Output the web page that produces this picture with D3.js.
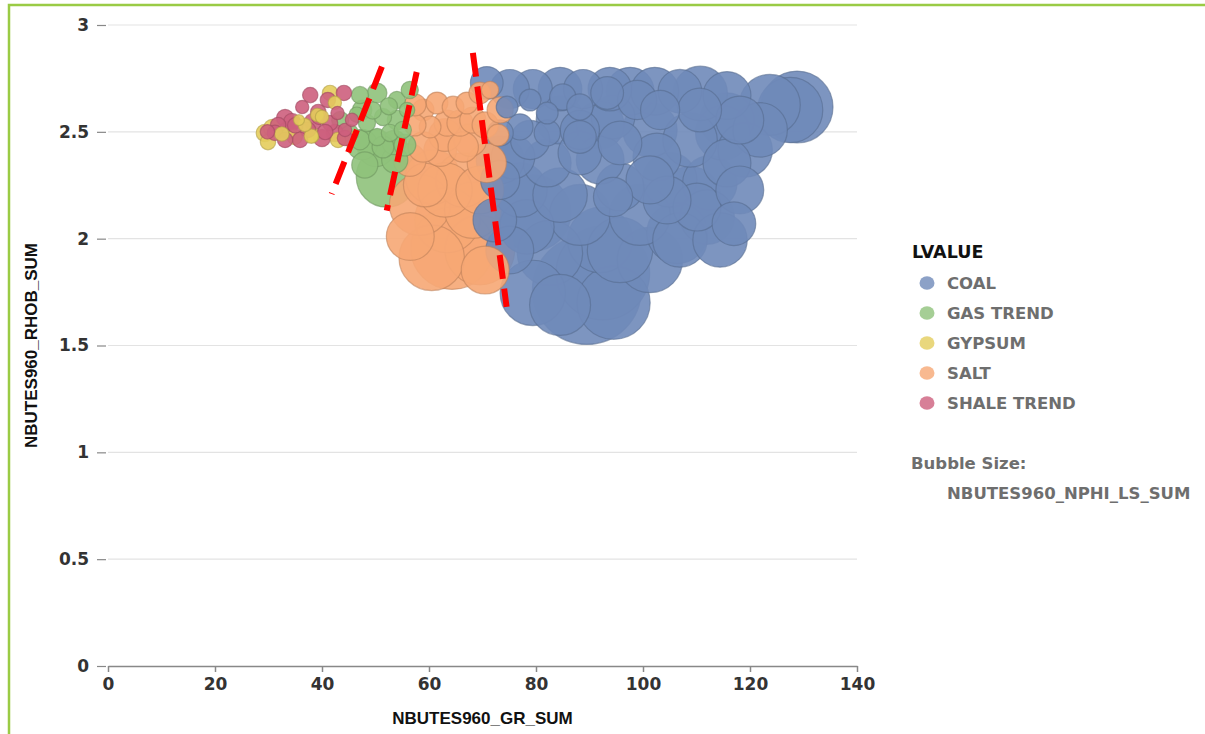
<!DOCTYPE html>
<html>
<head>
<meta charset="utf-8">
<script src="https://cdn.jsdelivr.net/npm/d3@7"></script>
<style>
  body { margin: 0; background: #fff; }
  text { font-family: "DejaVu Sans", sans-serif; font-weight: bold; }
</style>
</head>
<body>
<div id="chart"></div>
<script>
// categories + colours
const categories = ['COAL', 'GAS TREND', 'GYPSUM', 'SALT', 'SHALE TREND'];
const colors = ['#6f8ab9', '#8fc27b', '#e4cd5c', '#f6a774', '#cd5f7d'];

// [GR_SUM, RHOB_SUM, NPHI_LS_SUM]
const coalPoints = [
  [70.8, 2.729, 7.2], [79.4, 2.700, 10.3], [88.8, 2.700, 10.3], [97.6, 2.690, 15.4], [106.9, 2.690, 12.8],
  [115.7, 2.670, 15.4], [123.7, 2.626, 25.0], [127.5, 2.602, 28.7], [128.8, 2.616, 34.7],
  [78.9, 2.649, 3.2], [85.0, 2.663, 4.6], [74.6, 2.616, 3.2], [82.1, 2.588, 3.2], [88.2, 2.616, 4.6],
  [77.0, 2.523, 4.6], [73.3, 2.495, 4.6], [82.1, 2.495, 4.6], [88.2, 2.476, 7.2], [94.4, 2.569, 12.8],
  [93.3, 2.682, 7.2], [98.9, 2.649, 10.3], [103.2, 2.602, 10.3], [110.6, 2.602, 12.8], [115.7, 2.555, 19.9],
  [75.7, 2.382, 12.8], [82.1, 2.354, 15.4], [88.2, 2.401, 12.8], [95.7, 2.448, 12.8], [102.6, 2.382, 15.4],
  [95.7, 2.242, 15.4], [105.0, 2.275, 19.9], [108.8, 2.195, 25.0], [112.5, 2.261, 19.9], [115.7, 2.354, 15.4],
  [114.9, 2.495, 19.9], [119.1, 2.415, 19.9], [118.1, 2.555, 15.4],
  [79.4, 2.120, 39.1], [92.0, 1.994, 28.7], [106.4, 2.026, 25.0], [112.0, 2.101, 19.9], [92.5, 1.839, 59.0],
  [89.5, 1.760, 79.7], [82.6, 1.933, 28.7], [78.3, 2.055, 19.9], [79.4, 1.746, 28.7], [106.9, 1.994, 19.9],
  [110.1, 2.148, 15.4], [104.5, 2.181, 15.4], [94.4, 2.195, 10.3], [73.3, 2.275, 10.3], [72.3, 2.087, 12.8],
  [84.5, 2.555, 15.4], [92.0, 2.532, 15.4], [101.3, 2.509, 19.9], [108.8, 2.462, 19.9], [110.7, 2.680, 19.9],
  [102.2, 2.690, 15.4], [93.8, 2.700, 12.8], [84.5, 2.700, 12.8], [75.1, 2.700, 10.3], [73.3, 2.368, 15.4],
  [77.0, 2.228, 19.9], [84.5, 2.204, 19.9], [88.2, 2.111, 25.0], [99.4, 2.111, 25.0], [101.3, 2.275, 15.4],
  [92.0, 2.368, 15.4], [118.1, 2.228, 15.4], [117.0, 2.070, 12.8], [114.4, 1.994, 19.9], [101.3, 1.900, 28.7],
  [84.5, 1.690, 25.0], [94.5, 1.700, 36.0], [75.1, 1.947, 15.4], [88.2, 2.509, 10.3], [78.9, 2.462, 10.3],
  [121.9, 2.509, 19.9], [95.7, 1.947, 28.7]
];
const gasPoints = [
  [47.1, 2.672, 2.0], [50.3, 2.682, 2.6], [54.0, 2.649, 2.0], [51.4, 2.569, 2.0], [54.0, 2.555, 2.6],
  [48.4, 2.541, 2.0], [50.3, 2.476, 2.0], [52.7, 2.495, 2.0], [55.1, 2.509, 2.0], [47.1, 2.462, 2.6],
  [55.9, 2.602, 1.6], [45.2, 2.495, 2.0], [51.4, 2.429, 3.2], [50.1, 2.424, 9.2], [52.1, 2.290, 25.0],
  [47.5, 2.440, 6.2], [49.5, 2.600, 2.0], [52.5, 2.620, 2.0], [46.5, 2.580, 1.6], [53.5, 2.450, 4.0],
  [47.5, 2.602, 2.6], [55.5, 2.438, 3.2], [53.6, 2.368, 4.6], [48.0, 2.345, 4.6], [43.4, 2.555, 2.0],
  [56.4, 2.696, 2.0]
];
const gypsumPoints = [
  [41.5, 2.682, 1.6], [35.7, 2.555, 0.8], [39.1, 2.579, 1.2], [29.3, 2.495, 2.0], [29.9, 2.452, 1.6],
  [34.9, 2.476, 1.6], [40.0, 2.570, 1.2], [44.9, 2.471, 1.6], [42.4, 2.636, 1.2], [32.5, 2.490, 1.4],
  [38.0, 2.480, 1.4], [30.7, 2.518, 2.0], [38.1, 2.485, 1.6], [43.0, 2.462, 1.6], [36.8, 2.532, 1.2]
];
const saltPoints = [
  [58.9, 2.602, 3.2], [61.5, 2.635, 3.2], [64.5, 2.616, 3.2], [67.1, 2.635, 3.2], [69.5, 2.682, 3.2],
  [71.4, 2.696, 2.0], [60.2, 2.523, 3.2], [63.4, 2.541, 4.6], [65.8, 2.541, 4.6], [68.2, 2.555, 4.6],
  [58.9, 2.429, 6.2], [62.1, 2.415, 7.2], [66.4, 2.429, 6.2], [70.8, 2.354, 10.3], [60.7, 2.289, 20.0],
  [66.4, 2.275, 20.0], [58.3, 2.158, 25.0], [63.4, 2.087, 28.7], [68.2, 2.134, 21.6], [64.3, 1.956, 46.0],
  [69.5, 1.947, 32.7], [57.4, 2.532, 3.2], [70.5, 2.532, 4.6], [72.9, 2.485, 3.2],
  [56.4, 2.368, 7.2], [63.0, 2.228, 19.9], [69.5, 2.228, 15.4], [56.5, 2.010, 15.4], [60.5, 1.910, 28.7],
  [70.5, 1.853, 15.4], [67.7, 2.462, 7.2], [63.0, 2.485, 7.2], [57.4, 2.626, 3.2], [73.3, 2.602, 4.6],
  [59.3, 2.251, 12.8]
];
const shalePoints = [
  [37.8, 2.672, 1.6], [44.1, 2.682, 1.6], [36.3, 2.616, 1.2], [33.1, 2.565, 2.0], [31.8, 2.532, 1.6],
  [38.3, 2.546, 2.0], [41.5, 2.541, 1.6], [42.9, 2.588, 1.2], [37.4, 2.509, 1.6], [33.6, 2.509, 2.0],
  [40.6, 2.499, 1.6], [42.4, 2.495, 2.0], [44.3, 2.509, 1.2], [31.2, 2.495, 1.6], [45.6, 2.556, 1.2],
  [35.0, 2.530, 1.6], [39.5, 2.570, 1.6], [29.8, 2.500, 1.4], [34.4, 2.546, 2.0], [39.3, 2.593, 1.6],
  [40.0, 2.471, 2.0], [35.9, 2.462, 1.6], [33.1, 2.462, 1.6], [44.3, 2.471, 1.6], [41.1, 2.649, 1.6]
];
const seriesPoints = [coalPoints, gasPoints, gypsumPoints, saltPoints, shalePoints];

const xTicks = [0, 20, 40, 60, 80, 100, 120, 140];
const yTicks = [0, 0.5, 1, 1.5, 2, 2.5, 3];

// hand drawn annotation strokes, in data units [x1, y1, x2, y2]
const markLines = [
  [51.2, 2.805, 41.8, 2.209],
  [57.7, 2.780, 52.1, 2.131],
  [68.2, 2.870, 74.5, 1.681]
];

const svg = d3.select('#chart').append('svg')
  .attr('width', 1205)
  .attr('height', 734);

// green frame
svg.append('rect')
  .attr('x', 9).attr('y', 5)
  .attr('width', 1210).attr('height', 760)
  .attr('fill', 'none')
  .attr('stroke', '#9acb45')
  .attr('stroke-width', 2.5);

const x = d3.scaleLinear().domain([0, 140]).range([108, 857]);
const y = d3.scaleLinear().domain([0, 3]).range([666, 25]);
const r = d3.scaleSqrt().domain([0, 100]).range([0, 61]);

// grid
svg.append('g')
  .selectAll('line')
  .data(yTicks.filter(d => d > 0))
  .enter().append('line')
  .attr('x1', x(0)).attr('x2', x(140))
  .attr('y1', d => y(d)).attr('y2', d => y(d))
  .attr('stroke', '#e3e3e3')
  .attr('stroke-width', 1.2);

// y axis (ticks only, no domain line)
const yAxis = svg.append('g')
  .attr('transform', `translate(${x(0) - 2},0)`)
  .call(d3.axisLeft(y).tickValues(yTicks).tickSize(9).tickPadding(8).tickFormat(d3.format('')));
yAxis.select('.domain').remove();
yAxis.selectAll('.tick line').attr('stroke', '#888').attr('stroke-width', 1.2);
yAxis.selectAll('.tick text').attr('font-size', 17).attr('fill', '#333')
  .style('font-family', '"DejaVu Sans", sans-serif').style('font-weight', 'bold');

// x axis
const xAxis = svg.append('g')
  .attr('transform', `translate(0,${y(0)})`)
  .call(d3.axisBottom(x).tickValues(xTicks).tickSizeInner(6).tickSizeOuter(0).tickPadding(6));
xAxis.select('.domain').attr('stroke', '#888').attr('stroke-width', 1.5);
xAxis.selectAll('.tick line').attr('stroke', '#888').attr('stroke-width', 1.5);
xAxis.selectAll('.tick text').attr('font-size', 17).attr('fill', '#333')
  .style('font-family', '"DejaVu Sans", sans-serif').style('font-weight', 'bold');

// axis titles
svg.append('text')
  .attr('x', (x(0) + x(140)) / 2).attr('y', 724)
  .attr('text-anchor', 'middle')
  .attr('font-size', 17)
  .style('font-family', '"Liberation Sans", Arial, sans-serif')
  .attr('fill', '#111')
  .text('NBUTES960_GR_SUM');

svg.append('text')
  .attr('transform', `translate(37,${(y(0) + y(3)) / 2}) rotate(-90)`)
  .attr('text-anchor', 'middle')
  .attr('font-size', 17)
  .style('font-family', '"Liberation Sans", Arial, sans-serif')
  .attr('fill', '#111')
  .text('NBUTES960_RHOB_SUM');

// bubbles, biggest first so small ones stay visible
const bubbles = [];
seriesPoints.forEach((pts, i) => {
  pts.forEach(p => bubbles.push({ cat: i, gr: p[0], rhob: p[1], nphi: p[2] }));
});
bubbles.sort((a, b) => b.nphi - a.nphi);

svg.append('g')
  .selectAll('circle')
  .data(bubbles)
  .enter().append('circle')
  .attr('cx', d => x(d.gr))
  .attr('cy', d => y(d.rhob))
  .attr('r', d => r(d.nphi))
  .attr('fill', d => colors[d.cat])
  .attr('fill-opacity', 0.9)
  .attr('stroke', d => d3.color(colors[d.cat]).darker(0.7))
  .attr('stroke-opacity', 0.6)
  .attr('stroke-width', 1.2);

// red dashed annotation lines
svg.append('g')
  .selectAll('line')
  .data(markLines)
  .enter().append('line')
  .attr('x1', d => x(d[0])).attr('y1', d => y(d[1]))
  .attr('x2', d => x(d[2])).attr('y2', d => y(d[3]))
  .attr('stroke', '#ff0000')
  .attr('stroke-width', 6)
  .attr('stroke-dasharray', '24 10');

// legend
const legend = svg.append('g');
legend.append('text')
  .attr('x', 912).attr('y', 258)
  .attr('font-size', 17.5)
  .attr('fill', '#111')
  .text('LVALUE');

const item = legend.selectAll('.item')
  .data(categories)
  .enter().append('g')
  .attr('class', 'item')
  .attr('transform', (d, i) => `translate(927,${283 + i * 30})`);
item.append('ellipse')
  .attr('rx', 7.5).attr('ry', 6.8)
  .attr('fill', (d, i) => colors[i])
  .attr('fill-opacity', 0.8);
item.append('text')
  .attr('x', 20).attr('y', 6)
  .attr('font-size', 16.5)
  .attr('fill', '#6e6e6e')
  .text(d => d);

legend.append('text')
  .attr('x', 911).attr('y', 469)
  .attr('font-size', 16.5)
  .attr('fill', '#6e6e6e')
  .text('Bubble Size:');
legend.append('text')
  .attr('x', 947).attr('y', 499)
  .attr('font-size', 16.5)
  .attr('fill', '#6e6e6e')
  .text('NBUTES960_NPHI_LS_SUM');
</script>
</body>
</html>
